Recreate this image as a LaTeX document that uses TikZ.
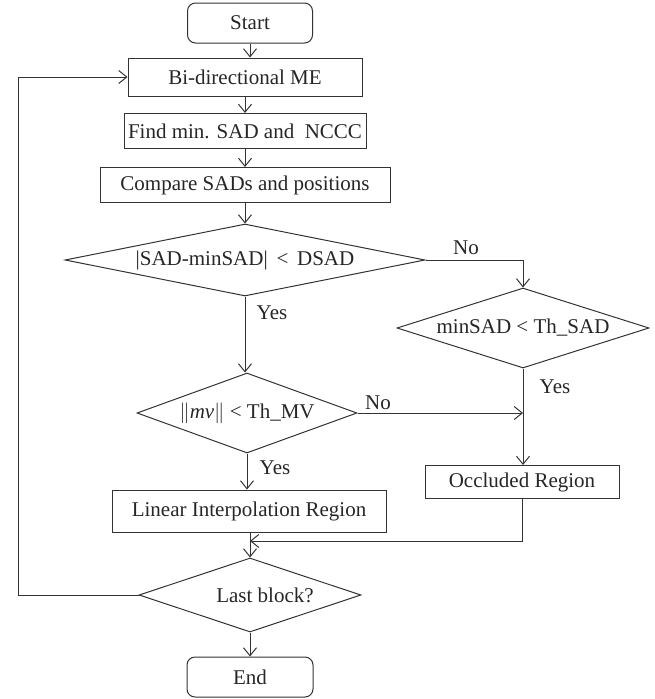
\documentclass[tikz,border=0pt]{standalone}
\usepackage{fontspec}
\setmainfont{Liberation Serif}
\usetikzlibrary{shapes.geometric,arrows.meta}
\begin{document}
\begin{tikzpicture}[x=1pt,y=-1pt,
  every node/.style={font=\fontsize{21}{24}\selectfont, text=black!85},
  base/.style={draw=black!80, line width=1pt, inner sep=0pt},
  proc/.style={base, rectangle},
  term/.style={base, rectangle, rounded corners=8pt},
  dec/.style={base, diamond},
  lbl/.style={inner sep=0pt},
  conn/.style={draw=black!80, line width=1pt, -{Straight Barb[length=8pt,width=13pt,line width=1pt]}},
  plain/.style={draw=black!80, line width=1pt}]
\useasboundingbox (0,0) rectangle (654,699);
\node[term, minimum width=125pt, minimum height=40pt] (start) at (250,23) {Start};
\node[proc, minimum width=234pt, minimum height=38pt] (bi) at (245,77) {Bi-directional ME};
\node[proc, minimum width=242pt, minimum height=35pt] (find) at (245,131) {Find min. SAD and~ NCCC};
\node[proc, minimum width=290pt, minimum height=35pt] (cmp) at (245,185) {Compare SADs and positions};
\node[dec, shape aspect=5, minimum width=360pt, minimum height=72pt] (d1) at (245,260) {|SAD-minSAD| \,<\, DSAD};
\node[dec, shape aspect=3.2, minimum width=252pt, minimum height=80pt] (d2) at (523,328) {minSAD < Th\_SAD};
\node[dec, shape aspect=2.75, minimum width=220pt, minimum height=80pt] (d3) at (247,413) {\(\|\)\textit{mv}\(\|\) < Th\_MV};
\node[proc, minimum width=194pt, minimum height=33pt] (occ) at (522,482) {Occluded Region};
\node[proc, minimum width=274pt, minimum height=42pt] (lin) at (249,511) {Linear Interpolation Region};
\node[dec, shape aspect=3, minimum width=222pt, minimum height=74pt] (last) at (250,595) {\hspace*{30pt}Last block?};
\node[term, minimum width=126pt, minimum height=40pt] (end) at (250,677) {End};
% labels
\node[lbl] (no1) at (466,248) {No};
\node[lbl] (yes1) at (272,313) {Yes};
\node[lbl] (yes2) at (555,387) {Yes};
\node[lbl] (no2) at (378,403) {No};
\node[lbl] (yes3) at (275,468) {Yes};
% connectors
\draw[conn] (start.south) -- (start.south |- bi.north);
\draw[conn] (bi.south) -- (bi.south |- find.north);
\draw[conn] (find.south) -- (find.south |- cmp.north);
\draw[conn] (cmp.south) -- (cmp.south |- d1.north);
\draw[conn] (d1.east) -| (d2.north);
\draw[conn] (d1.south) -- (d1.south |- d3.north);
\coordinate (j1) at (d2.south |- d3.east);
\draw[conn] (d3.east) -- (j1);
\draw[plain] (d2.south) -- (j1);
\draw[conn] (j1) -- (j1 |- occ.north);
\draw[conn] (d3.south) -- (d3.south |- lin.north);
\coordinate (m) at (250,541);
\draw[conn] (occ.south) |- (m);
\draw[conn] (lin.south -| m) -- (m |- last.north);
\draw[conn] (last.south) -- (end.north);
\coordinate (lp) at (18,595);
\draw[plain] (last.west) -- (lp);
\draw[conn] (lp) |- (bi.west);
\end{tikzpicture}
\end{document}
